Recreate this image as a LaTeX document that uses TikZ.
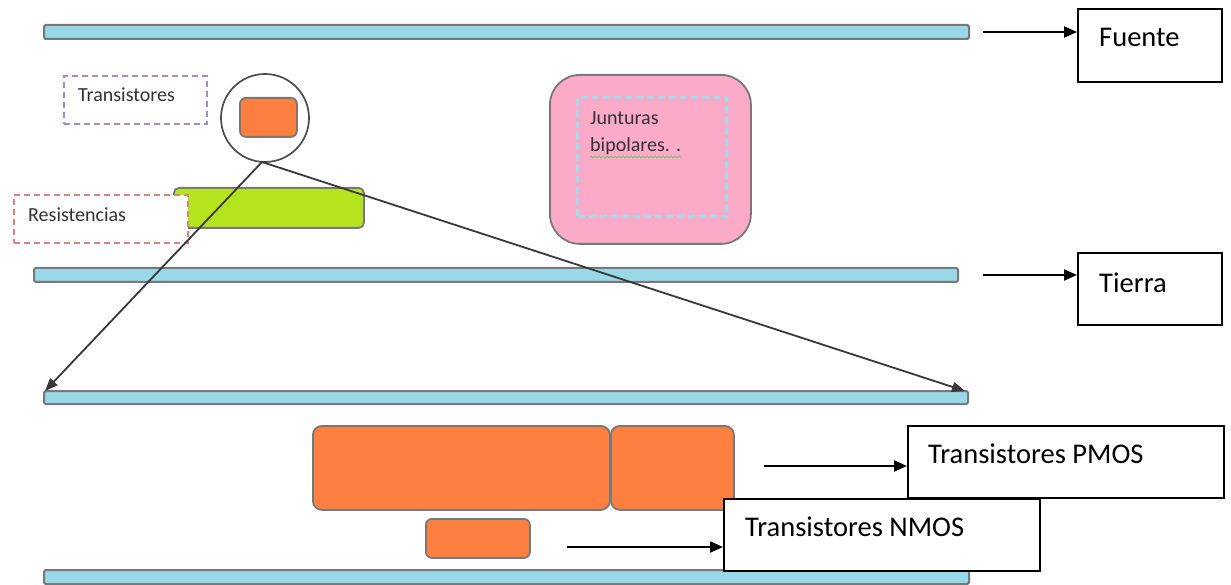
\documentclass[tikz,border=0pt]{standalone}
\usepackage{fontspec}
\setmainfont{Carlito}
\usetikzlibrary{arrows.meta,decorations.pathmorphing}

\definecolor{barblue}{RGB}{152,216,232}
\definecolor{edgegray}{RGB}{120,120,120}
\definecolor{chiporange}{RGB}{254,128,64}
\definecolor{resgreen}{RGB}{180,228,30}
\definecolor{junpink}{RGB}{251,170,200}
\definecolor{tpurple}{RGB}{160,140,205}
\definecolor{rred}{RGB}{218,128,128}
\definecolor{dashblue}{RGB}{160,220,235}
\definecolor{smalltext}{RGB}{50,50,50}
\definecolor{spellgreen}{RGB}{110,200,110}

\tikzset{
  rail/.style={draw=edgegray, fill=barblue, line width=2pt, rounded corners=1.5pt,
    minimum height=14pt, inner sep=0pt, anchor=north west},
  chip/.style={draw=edgegray, fill=chiporange, line width=1.8pt, rounded corners=9pt,
    inner sep=0pt, anchor=north west},
  tagbox/.style={draw=black, fill=white, line width=1.6pt, inner sep=0pt, anchor=north west},
  bigtext/.style={inner sep=0pt, anchor=base west, font=\fontsize{28.5pt}{34pt}\selectfont},
  smalltxt/.style={inner sep=0pt, anchor=base west, text=smalltext, font=\fontsize{20pt}{24pt}\selectfont},
  dashframe/.style={dashed, dash pattern=on 6pt off 4pt, line width=2pt, inner sep=0pt, anchor=north west},
  pointer/.style={draw=black, line width=2pt, -{Triangle[length=13pt,width=11pt]}},
  zoomline/.style={draw=black!78, line width=1.8pt, -{Triangle[length=13pt,width=10pt]}},
}

\begin{document}
\begin{tikzpicture}[x=1pt,y=-1pt]
\useasboundingbox (0,0) rectangle (1231,585);

% supply and ground rails of the upper layout
\node[rail, minimum width=925pt] (vdd) at (43,24) {};
\node[rail, minimum width=924pt] (gnd) at (33,267) {};

% upper layout: transistor, resistor, bipolar junction region
\node[dashframe, draw=tpurple, minimum width=143pt, minimum height=48pt] (tbox) at (63,75) {};
\node[smalltxt] (tlabel) at (78,102) {Transistores};

\node[draw=black!70, line width=1.7pt, circle, minimum size=88pt, inner sep=0pt] (lens) at (265,118) {};
\node[chip, rounded corners=6pt, minimum width=57pt, minimum height=39pt] (tchip) at (239,97) {};

\node[draw=edgegray, fill=resgreen, line width=1.8pt, rounded corners=5pt, inner sep=0pt,
      minimum width=190pt, minimum height=40pt, anchor=north west] (res) at (173,187) {};
\node[dashframe, draw=rred, fill=white, minimum width=174pt, minimum height=48pt] (rbox) at (13,194) {};
\node[smalltxt] (rlabel) at (28,222) {Resistencias};

\node[draw=edgegray, fill=junpink, line width=1.8pt, rounded corners=30pt, inner sep=0pt,
      minimum width=201pt, minimum height=169pt, anchor=north west] (bjt) at (549,74) {};
\node[dashframe, draw=dashblue, dash pattern=on 7pt off 4pt, line width=3.2pt,
      minimum width=149pt, minimum height=119pt] (bjtarea) at (576,96) {};
\node[smalltxt] (jlabel1) at (590,125) {Junturas};
\node[smalltxt] (jlabel2) at (590,152) {bipolares. .};
\draw[spellgreen, line width=0.9pt, decorate,
      decoration={snake, amplitude=0.8pt, segment length=4pt}]
  ([yshift=-5pt]jlabel2.base west) -- ([yshift=-5pt]jlabel2.base east);

% labels on the right
\coordinate (vddtip) at (983,32);
\node[tagbox, minimum width=144pt, minimum height=73pt] (fuente) at (1077,8) {};
\node[bigtext] (fuentetxt) at (1099,47) {Fuente};
\draw[pointer] (vddtip) -- (vddtip -| fuente.west);

\coordinate (gndtip) at (983,275);
\node[tagbox, minimum width=144pt, minimum height=72pt] (tierra) at (1077,252) {};
\node[bigtext] (tierratxt) at (1099,292) {Tierra};
\draw[pointer] (gndtip) -- (gndtip -| tierra.west);

% magnified view: rails and transistor blocks
\node[rail, minimum width=924pt, minimum height=13pt] (vdd2) at (43,390) {};
\node[rail, minimum width=925pt] (gnd2) at (43,569) {};

\node[chip, minimum width=297pt, minimum height=84pt] (pmosA) at (312,425) {};
\node[chip, minimum width=123pt, minimum height=84pt] (pmosB) at (610,425) {};
\node[chip, rounded corners=6pt, minimum width=104pt, minimum height=39pt] (nmos) at (425,518) {};

\node[tagbox, minimum width=316pt, minimum height=72pt] (pbox) at (907,425) {};
\node[bigtext] (ptxt) at (928,463) {Transistores PMOS};
\coordinate (ptail) at (764,466);
\draw[pointer] (ptail) -- (ptail -| pbox.west);

\node[tagbox, minimum width=316pt, minimum height=72pt] (nbox) at (723,498) {};
\node[bigtext] (ntxt) at (745,536) {Transistores NMOS};
\coordinate (ntail) at (567,547);
\draw[pointer] (ntail) -- (ntail -| nbox.west);

% magnification lines from the lens to the enlarged rail
\coordinate (lensfoot) at (262,162);
\draw[zoomline] (lensfoot) -- ([xshift=2pt,yshift=-1pt]vdd2.north west);
\draw[zoomline] (lensfoot) -- ([xshift=-4pt,yshift=-1pt]vdd2.north east);
\end{tikzpicture}
\end{document}
